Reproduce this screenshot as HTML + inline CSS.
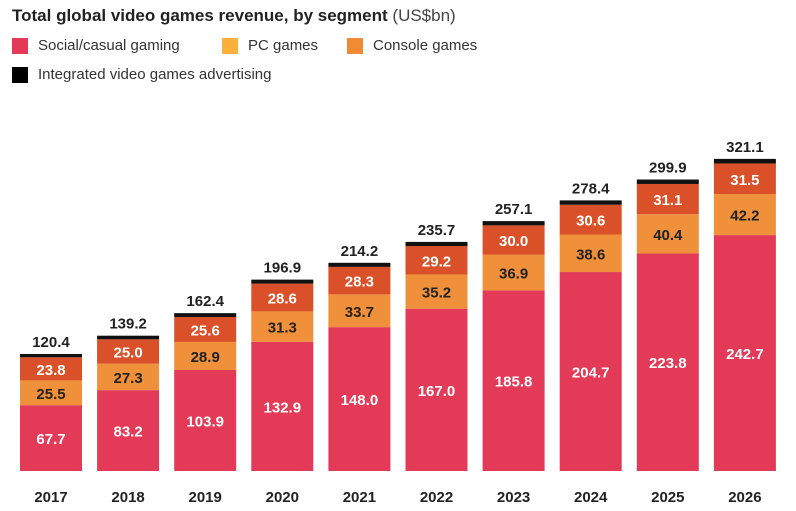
<!DOCTYPE html>
<html><head><meta charset="utf-8"><style>
body{margin:0;background:#fff;font-family:"Liberation Sans",Arial,sans-serif;}
#wrap{position:relative;width:796px;height:511px;overflow:hidden;}
.t{position:absolute;left:12px;top:6px;font-size:17px;font-weight:bold;color:#222;}
.t span{font-weight:normal;color:#444;}
.lg{position:absolute;font-size:15px;color:#333;display:flex;align-items:center;}
.lg i{display:inline-block;width:16px;height:16px;margin-right:10px;}
</style></head><body>
<div id="wrap">
<div class="t">Total global video games revenue, by segment <span>(US$bn)</span></div>
<div class="lg" style="left:12px;top:37px"><i style="background:#e23a57"></i>Social/casual gaming</div>
<div class="lg" style="left:222px;top:37px"><i style="background:#fbb03b"></i>PC games</div>
<div class="lg" style="left:347px;top:37px"><i style="background:#f08a33"></i>Console games</div>
<div class="lg" style="left:12px;top:66px"><i style="background:#000"></i>Integrated video games advertising</div>
<svg id="svg" width="796" height="511" style="position:absolute;left:0;top:0"></svg>
</div>
<script>
const years=["2017","2018","2019","2020","2021","2022","2023","2024","2025","2026"];
const social=[67.7,83.2,103.9,132.9,148.0,167.0,185.8,204.7,223.8,242.7];
const pc=[25.5,27.3,28.9,31.3,33.7,35.2,36.9,38.6,40.4,42.2];
const consoleG=[23.8,25.0,25.6,28.6,28.3,29.2,30.0,30.6,31.1,31.5];
const totals=[120.4,139.2,162.4,196.9,214.2,235.7,257.1,278.4,299.9,321.1];
const NS="http://www.w3.org/2000/svg";
const svg=document.getElementById('svg');
const base=471,k=0.972,x0=20,pitch=77.1,bw=62;
const y=v=>base-v*k;
const xs=i=>x0+i*pitch;
function txt(x,yy,s,fill,size){const t=document.createElementNS(NS,'text');t.setAttribute('x',x);t.setAttribute('y',yy);t.setAttribute('text-anchor','middle');t.setAttribute('font-size',size);t.setAttribute('font-weight','bold');t.setAttribute('fill',fill);t.setAttribute('font-family','Liberation Sans, Arial, sans-serif');t.textContent=s;svg.appendChild(t);return t;}
function rect(x,y1,h,fill){const r=document.createElementNS(NS,'rect');r.setAttribute('x',x);r.setAttribute('y',y1);r.setAttribute('width',bw);r.setAttribute('height',Math.max(h,0));r.setAttribute('fill',fill);svg.appendChild(r);return r;}
years.forEach((yr,i)=>{
  const x=xs(i),cx=x+bw/2;
  const s=social[i],p=pc[i],c=consoleG[i],t=totals[i];
  let r=rect(x,y(s),s*k,'#e23a57');
  
  
  r=rect(x,y(s+p),p*k,'#f0903a');
  
  
  r=rect(x,y(s+p+c),c*k,'#da5028');
  
  
  r=rect(x,y(t),(t-s-p-c)*k,'#111');
  
  
  let l=txt(cx,y(s/2)+6,s.toFixed(1),'#fff',15);
  
  
  l=txt(cx,y(s+p/2)+6,p.toFixed(1),'#222',15);
  
  
  l=txt(cx,y(s+p+c/2)+6,c.toFixed(1),'#fff',15);
  
  
  l=txt(cx,y(t)-7,t.toFixed(1),'#222',15);
  
  
  l=txt(cx,502,yr,'#222',15);
  
  
});
</script>
</body></html>
